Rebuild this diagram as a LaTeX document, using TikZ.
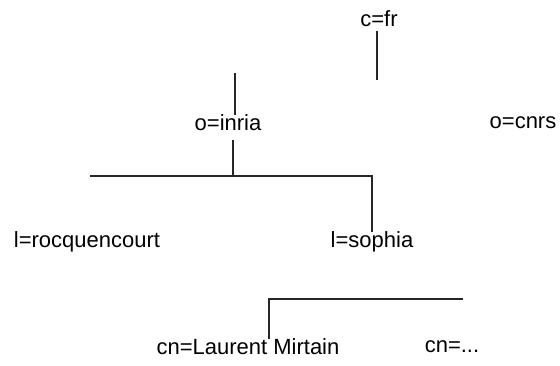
\documentclass[tikz,border=0pt]{standalone}
\usepackage{fontspec}
\setmainfont{Liberation Sans}
\begin{document}
\begin{tikzpicture}[x=1pt,y=-1pt,
  lbl/.style={inner sep=0pt,font=\fontsize{22}{24}\selectfont},
  conn/.style={line width=1.2pt,black!85}]
\useasboundingbox (0,0) rectangle (560,365);
\node[lbl] (cfr) at (379,19) {c=fr};
\node[lbl] (inria) at (228,123) {o=inria};
\node[lbl] (cnrs) at (523,123) {o=cnrs};
\node[lbl] (rocq) at (87,242) {l=rocquencourt};
\node[lbl] (sophia) at (372,242) {l=sophia};
\node[lbl] (laurent) at (248,347) {cn=Laurent Mirtain};
\node[lbl] (dots) at (452,347) {cn=...};
\coordinate (c1) at (377,80);
\coordinate (c2) at (235,73);
\coordinate (c3) at (90,176);
\coordinate (c4) at (372,176);
\coordinate (c5) at (463,299);
\coordinate (c6) at (269,299);
\draw[conn] (cfr.south -| c1) ++(0,4) -- (c1);
\draw[conn] (c2) -- (c2 |- inria.north) ++(0,-4);
\draw[conn] (233,140) -- (233,176);
\draw[conn] (c3) -- (c4) -- (sophia.north -| c4) ++(0,-2);
\draw[conn] (c5) -- (c6) -- (laurent.north -| c6);
\end{tikzpicture}
\end{document}
